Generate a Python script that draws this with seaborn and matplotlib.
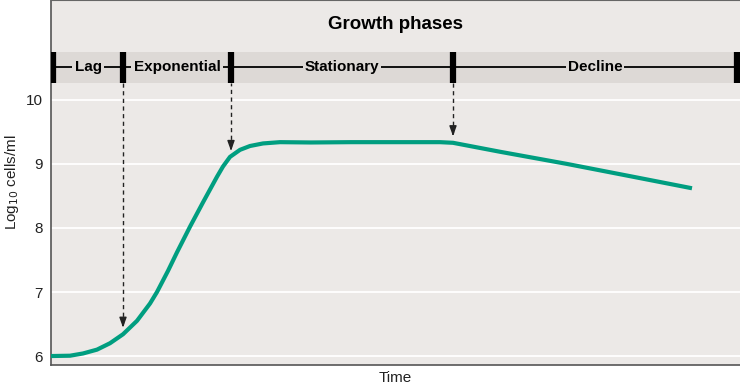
import numpy as np
import pandas as pd
import matplotlib
matplotlib.use("Agg")
import matplotlib.pyplot as plt
import seaborn as sns

# growth curve (time in arbitrary units, log10 cells/ml)
time = [0, 19, 32, 46, 59, 72, 86, 99, 106, 117, 126, 139, 152, 166, 172,
        179, 189, 199, 212, 229, 260, 300, 340, 389, 402, 449, 516, 582, 641]
log_cells = [6.00, 6.005, 6.04, 6.10, 6.20, 6.34, 6.55, 6.82, 7.00, 7.33,
             7.62, 8.02, 8.40, 8.80, 8.96, 9.11, 9.22, 9.28, 9.32, 9.34,
             9.335, 9.34, 9.34, 9.34, 9.33, 9.19, 9.00, 8.80, 8.62]

# phase boundaries and names
bounds = [2, 72, 180, 402, 686]
phases = ["Lag", "Exponential", "Stationary", "Decline"]
# where the dashed arrows land on the curve
arrow_x = [72, 180, 402]
arrow_tip = [6.40, 9.16, 9.39]

BG = "#ECE9E7"
BAND = "#DDD9D6"
TEAL = "#009E80"

sns.set_theme(style="whitegrid")
plt.rcParams["font.family"] = ["Liberation Sans", "DejaVu Sans"]

fig = plt.figure(figsize=(7.4, 3.84), dpi=100)
ax = fig.add_axes([51 / 740, 19 / 384, 689 / 740, 365 / 384])
ax.set_facecolor(BG)

df = pd.DataFrame({"Time": time, "log": log_cells})
sns.lineplot(data=df, x="Time", y="log", ax=ax, color=TEAL, lw=3,
             solid_capstyle="butt", solid_joinstyle="round", zorder=4)

ax.set_xlim(0, 689)
ax.set_ylim(5.86, 11.56)
ax.set_yticks([6, 7, 8, 9, 10])
ax.set_xticks([])
ax.grid(axis="y", color="white", lw=1.3)
ax.grid(axis="x", visible=False)
ax.tick_params(axis="y", length=0, labelsize=11, pad=6, labelcolor="#222222")
ax.set_xlabel("Time", fontsize=11, labelpad=4, color="#222222")
ax.set_ylabel("Log$_{10}$ cells/ml", fontsize=11, color="#222222")
ax.yaxis.set_label_coords(-0.043, 0.5)

for side in ["left", "bottom"]:
    ax.spines[side].set_color("#555555")
    ax.spines[side].set_linewidth(1.2)
ax.spines["top"].set_color("#666666")
ax.spines["top"].set_linewidth(0.8)
ax.spines["right"].set_visible(False)

# phase band
band_lo, band_hi, band_mid = 10.27, 10.75, 10.52
ax.axhspan(band_lo, band_hi, color=BAND, zorder=1, lw=0)
ax.hlines(band_mid, bounds[0], bounds[-1], color="black", lw=1.3, zorder=2)
ax.vlines(bounds, band_lo, band_hi, color="black", lw=4.5, zorder=3)
for a, b, name in zip(bounds[:-1], bounds[1:], phases):
    ax.text((a + b) / 2, band_mid, name, ha="center", va="center",
            fontsize=11, fontweight="bold", color="black", zorder=3,
            bbox=dict(facecolor=BAND, edgecolor="none", pad=1.5))

ax.text(344, 11.17, "Growth phases", ha="center", va="center",
        fontsize=13.5, fontweight="bold", color="black")

# dashed arrows from the band down to the curve
for x, tip in zip(arrow_x, arrow_tip):
    ax.vlines(x, tip + 0.1, band_lo, color="#222222", lw=1, linestyles=(0, (3, 2.5)),
              zorder=3)
    ax.annotate("", xy=(x, tip), xytext=(x, tip + 0.15),
                arrowprops=dict(arrowstyle="-|>,head_width=0.18,head_length=0.5",
                                color="#222222", lw=1), zorder=5)

fig.savefig("out.png", dpi=100, facecolor="white")
